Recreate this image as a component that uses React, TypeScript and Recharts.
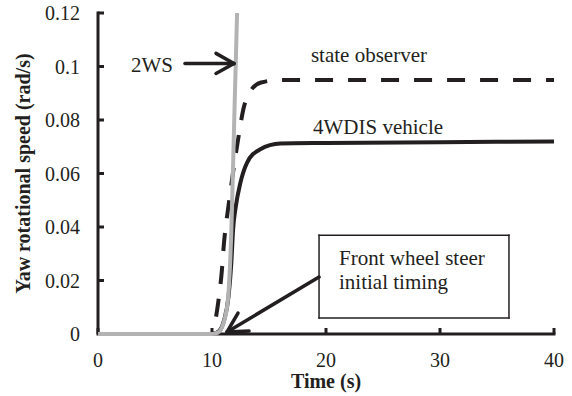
import React from 'react';
import { LineChart, Line, XAxis, YAxis, ReferenceLine, ReferenceDot } from 'recharts';

// Time (s) samples and yaw rotational speed (rad/s) for each series
const ws2Time = [0, 10, 10.5, 11.0, 11.4, 11.7, 11.95, 12.2];
const ws2Yaw = [0, 0, 0.0005, 0.004, 0.013, 0.039, 0.08, 0.12];

const observerTime = [0, 10, 10.2, 10.55, 10.85, 11.05, 11.45, 11.9, 12.3, 12.75, 13.4, 14.3, 16, 40];
const observerYaw = [0, 0, 0.003, 0.012, 0.023, 0.034, 0.048, 0.062, 0.073, 0.084, 0.091, 0.094, 0.095, 0.095];

const vehicleTime = [0, 10, 10.6, 11.05, 11.45, 11.7, 11.85, 12.1, 12.46, 13.07, 14.2, 16, 20, 30, 40];
const vehicleYaw = [0, 0, 0.001, 0.005, 0.014, 0.027, 0.039, 0.048, 0.056, 0.064, 0.069, 0.0712, 0.0714, 0.0717, 0.072];

const xTicks = [0, 10, 20, 30, 40];
const yTicks = [0, 0.02, 0.04, 0.06, 0.08, 0.1, 0.12];
const yTickLabels = ['0', '0.02', '0.04', '0.06', '0.08', '0.1', '0.12'];
const xDomain = [0, 40];
const yDomain = [0, 0.12];

// annotation texts (anchored at left / vertical middle, data coordinates: time, yaw)
const noteTexts = ['2WS', 'state observer', '4WDIS vehicle', 'Front wheel steer', 'initial timing'];
const noteX = [2.89, 18.68, 18.86, 21.14, 21.14];
const noteY = [0.1006, 0.1043, 0.0774, 0.02855, 0.01959];

// arrows: [x1, y1, x2, y2]
const arrowSegments: number[][] = [
  [7.63, 0.1011, 11.93, 0.1011],
  [10.35, 0.1049, 11.93, 0.1011],
  [10.35, 0.0974, 11.93, 0.1011],
  [19.39, 0.02127, 11.32, 0.00075],
  [12.28, 0.00784, 11.32, 0.00075],
  [13.25, 0.00112, 11.32, 0.00075],
];

// callout box corners
const boxX = [19.39, 36.05];
const boxY = [0.00597, 0.03694];
const boxSegments: number[][] = [
  [boxX[0], boxY[0], boxX[1], boxY[0]],
  [boxX[1], boxY[0], boxX[1], boxY[1]],
  [boxX[1], boxY[1], boxX[0], boxY[1]],
  [boxX[0], boxY[1], boxX[0], boxY[0]],
];

const CHART_W = 572;
const CHART_H = 396;
const MARGIN = { top: 13, right: 18, bottom: 0, left: 0 };
const Y_AXIS_W = 98;
const X_AXIS_H = 62;
const TICK_PX = 6;

const plotW = CHART_W - MARGIN.left - MARGIN.right - Y_AXIS_W;
const plotH = CHART_H - MARGIN.top - MARGIN.bottom - X_AXIS_H;
const xTickLen = (TICK_PX * (xDomain[1] - xDomain[0])) / plotW;
const yTickLen = (TICK_PX * (yDomain[1] - yDomain[0])) / plotH;

const toPoints = (ts: number[], ys: number[]) => ts.map((t, i) => ({ t, v: ys[i] }));
const ws2 = toPoints(ws2Time, ws2Yaw);
const observer = toPoints(observerTime, observerYaw);
const vehicle = toPoints(vehicleTime, vehicleYaw);
// L-shaped axis frame: top of y axis -> origin -> end of x axis
const axisFrame = [
  { t: xDomain[0], v: yDomain[1] },
  { t: xDomain[0], v: yDomain[0] },
  { t: xDomain[1], v: yDomain[0] },
];

const INK = '#231f20';
const FONT = '"Liberation Serif", "Times New Roman", serif';

const XTick = (props: any) => {
  const { x, y, payload } = props;
  return (
    <text x={x} y={y} dy="0.71em" textAnchor="middle" fontFamily={FONT} fontSize={20} fill={INK}>
      {payload.value}
    </text>
  );
};

const YTick = (props: any) => {
  const { x, y, payload } = props;
  const idx = yTicks.indexOf(payload.value);
  return (
    <text x={x} y={y} dy="0.355em" textAnchor="end" fontFamily={FONT} fontSize={20} fill={INK}>
      {idx >= 0 ? yTickLabels[idx] : String(payload.value)}
    </text>
  );
};

export default function App() {
  return (
    <div style={{ position: 'absolute', left: 0, top: 0, width: CHART_W, height: CHART_H, background: '#fff' }}>
      <LineChart width={CHART_W} height={CHART_H} margin={MARGIN}>
        <XAxis
          type="number"
          dataKey="t"
          domain={xDomain}
          ticks={xTicks}
          height={X_AXIS_H}
          tickSize={0}
          tickMargin={19}
          axisLine={false}
          tickLine={false}
          tick={<XTick />}
          label={{ value: 'Time (s)', position: 'insideBottom', offset: 8, fill: INK, fontSize: 20, fontWeight: 'bold', fontFamily: FONT }}
        />
        <YAxis
          type="number"
          domain={yDomain}
          ticks={yTicks}
          width={Y_AXIS_W}
          tickSize={0}
          tickMargin={18}
          axisLine={false}
          tickLine={false}
          tick={<YTick />}
          label={{
            value: 'Yaw rotational speed (rad/s)',
            angle: -90,
            position: 'insideLeft',
            offset: 23,
            fill: INK,
            fontSize: 20,
            fontWeight: 'bold',
            fontFamily: FONT,
            style: { textAnchor: 'middle' },
          }}
        />
        <Line data={axisFrame} dataKey="v" type="linear" stroke={INK} strokeWidth={3} strokeLinecap="square" dot={false} isAnimationActive={false} />
        {xTicks.map((t) => (
          <ReferenceLine
            key={'xt' + t}
            segment={[{ x: t, y: yDomain[0] }, { x: t, y: yDomain[0] + yTickLen }]}
            stroke={INK}
            strokeWidth={3}
            ifOverflow="visible"
          />
        ))}
        {yTicks.map((v) => (
          <ReferenceLine
            key={'yt' + v}
            segment={[{ x: xDomain[0], y: v }, { x: xDomain[0] + xTickLen, y: v }]}
            stroke={INK}
            strokeWidth={3}
            ifOverflow="visible"
          />
        ))}
        <Line data={observer} dataKey="v" type="monotone" stroke={INK} strokeWidth={4} strokeDasharray="18 15" dot={false} isAnimationActive={false} />
        <Line data={vehicle} dataKey="v" type="monotone" stroke={INK} strokeWidth={4} dot={false} isAnimationActive={false} />
        <Line data={ws2} dataKey="v" type="monotone" stroke="#b3b3b3" strokeWidth={4} dot={false} isAnimationActive={false} />
        {boxSegments.map((s, i) => (
          <ReferenceLine
            key={'b' + i}
            segment={[{ x: s[0], y: s[1] }, { x: s[2], y: s[3] }]}
            stroke={INK}
            strokeWidth={1.5}
            strokeLinecap="square"
          />
        ))}
        {arrowSegments.map((s, i) => (
          <ReferenceLine
            key={'a' + i}
            segment={[{ x: s[0], y: s[1] }, { x: s[2], y: s[3] }]}
            stroke={INK}
            strokeWidth={3.5}
            strokeLinecap="round"
          />
        ))}
        {noteTexts.map((txt, i) => (
          <ReferenceDot
            key={'n' + i}
            x={noteX[i]}
            y={noteY[i]}
            r={0}
            fill="none"
            stroke="none"
            label={{ value: txt, position: 'right', offset: 0, fill: INK, fontSize: 21, fontFamily: FONT }}
          />
        ))}
      </LineChart>
    </div>
  );
}
